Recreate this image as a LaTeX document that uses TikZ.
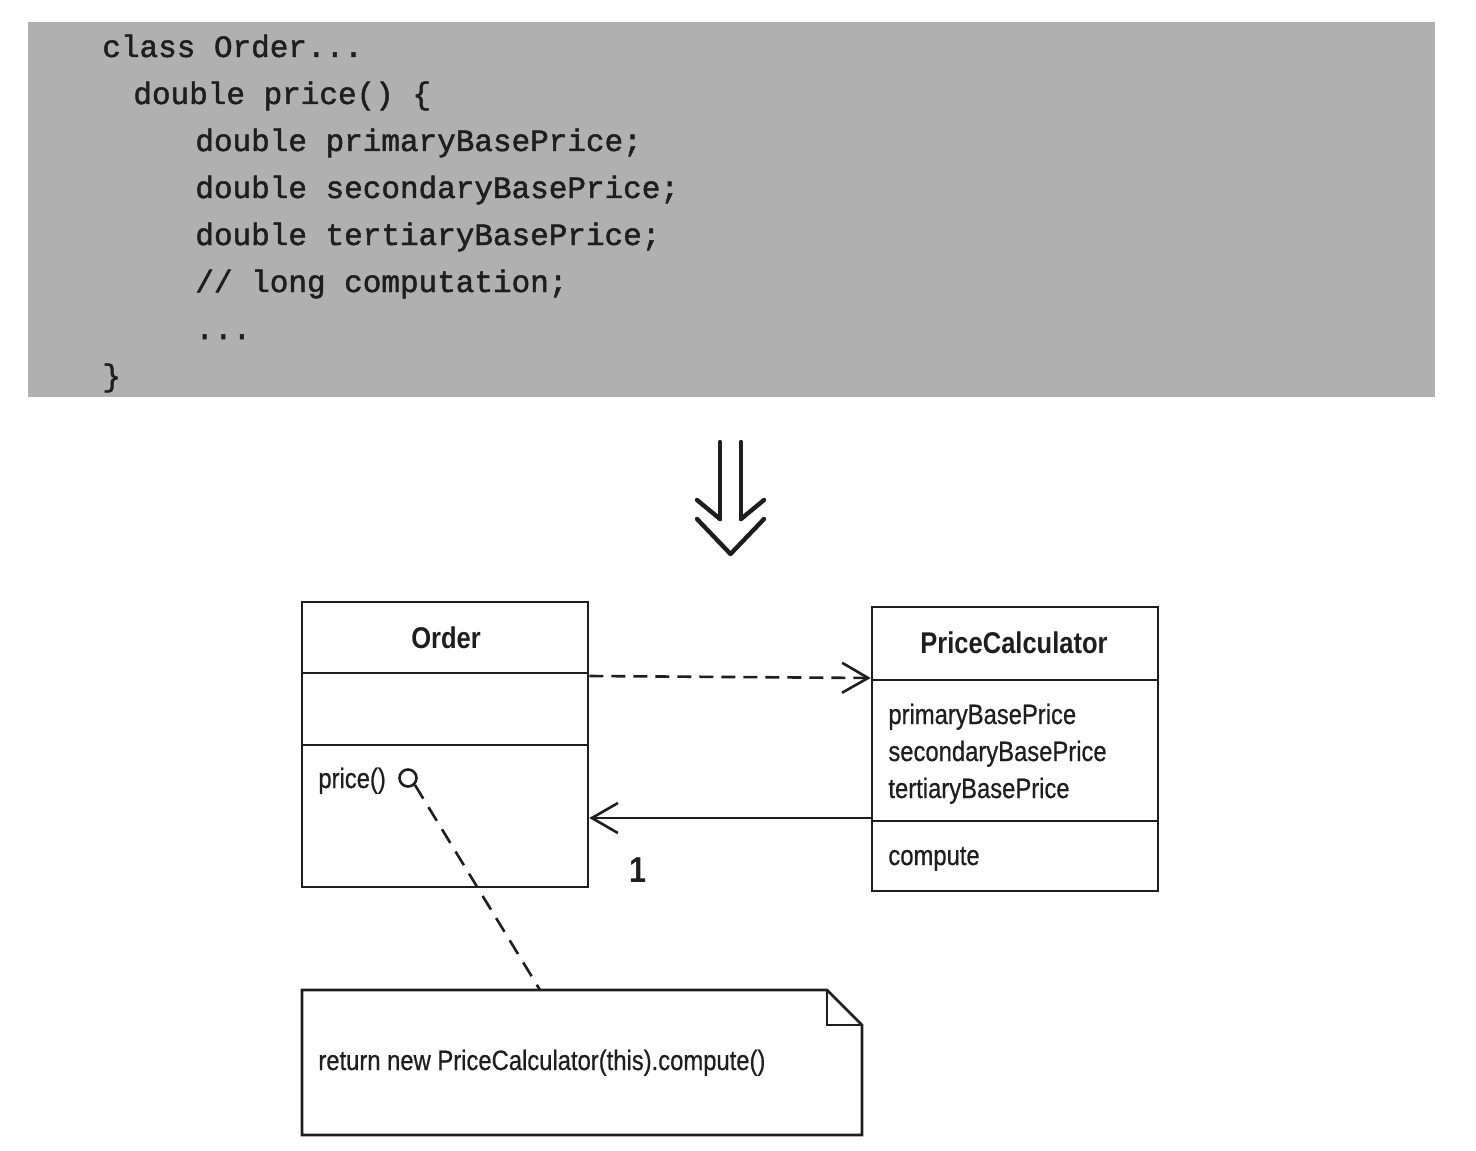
\documentclass[tikz,border=0pt]{standalone}
\usepackage{fontspec}
\setmainfont{Liberation Sans}
\newfontfamily\umlfont[FakeStretch=0.85,FakeBold=0.6]{Liberation Sans}
\newfontfamily\umlboldfont[FakeStretch=0.85]{Liberation Sans Bold}
\newfontfamily\codefont[FakeBold=1.6]{Liberation Mono}
\usetikzlibrary{arrows.meta,calc}
\definecolor{codebg}{RGB}{176,176,176}
\definecolor{ink}{RGB}{30,30,30}
\tikzset{
  codeline/.style={anchor=base west, inner sep=0pt, text=ink, font=\fontsize{15.5}{18}\selectfont\codefont},
  umlbox/.style={draw=ink, line width=1.3pt, minimum width=143pt, minimum height=142.5pt, inner sep=0pt},
  umltext/.style={anchor=base west, inner sep=0pt, text=ink, font=\fontsize{14}{16}\selectfont\umlfont},
  umltitle/.style={inner sep=0pt, text=ink, font=\fontsize{15}{17}\selectfont\umlboldfont},
  divider/.style={draw=ink, line width=1.3pt},
  opentip/.style={-{Straight Barb[length=13pt,width=15pt,line width=1.3pt]}},
  dep/.style={draw=ink, line width=1.3pt, dash pattern=on 7pt off 4pt, opentip},
  assoc/.style={draw=ink, line width=1.3pt, opentip},
  notelink/.style={draw=ink, line width=1.3pt, dash pattern=on 8pt off 5pt},
  bigarrow/.style={draw=ink, line width=2.2pt, line cap=round, line join=round}
}
\begin{document}
\begin{tikzpicture}[x=0.5pt,y=-0.5pt]
\useasboundingbox (0,0) rectangle (1476,1150);
% code panel
\node[fill=codebg, minimum width=703.5pt, minimum height=187.5pt, inner sep=0pt] (panel) at (731.5,209.5) {};
\node[codeline] (l1) at (102,57) {class Order...};
\node[codeline] (l2) at (133,104) {double price() \{};
\node[codeline] (l3) at (195,151) {double primaryBasePrice;};
\node[codeline] (l4) at (195,198) {double secondaryBasePrice;};
\node[codeline] (l5) at (195,245) {double tertiaryBasePrice;};
\node[codeline] (l6) at (195,292) {// long computation;};
\node[codeline] (l7) at (195,339) {...};
\node[codeline] (l8) at (102,386) {\}};
% transformation arrow
\draw[bigarrow] (720,442) -- (720,519);
\draw[bigarrow] (741,442) -- (741,519);
\draw[bigarrow] (697,500) -- (720,519);
\draw[bigarrow] (764,500) -- (741,519);
\draw[bigarrow] (697,519) -- (730.5,554) -- (764,519);
% Order class
\node[umlbox] (order) at (445,744.5) {};
\node[umltitle] (ordertitle) at (446,638) {Order};
\draw[divider] (order.west |- 0,673) -- (order.east |- 0,673);
\draw[divider] (order.west |- 0,745) -- (order.east |- 0,745);
\node[umltext] (price) at (318,788) {price()};
\node[draw=ink, line width=1.3pt, circle, minimum size=8.5pt, inner sep=0pt] (pcirc) at (408,778) {};
% PriceCalculator class
\node[umlbox, minimum height=142pt] (calc) at (1015,749) {};
\node[umltitle] (calctitle) at (1014,643) {PriceCalculator};
\draw[divider] (calc.west |- 0,680) -- (calc.east |- 0,680);
\draw[divider] (calc.west |- 0,821) -- (calc.east |- 0,821);
\node[umltext] (a1) at (888,724) {primaryBasePrice};
\node[umltext] (a2) at (888,761) {secondaryBasePrice};
\node[umltext] (a3) at (888,798) {tertiaryBasePrice};
\node[umltext] (m1) at (888,865) {compute};
% connectors
\draw[dep] (order.east |- 0,676) -- (calc.west |- 0,678);
\draw[assoc] (calc.west |- 0,818) -- (order.east |- 0,818);
\node[inner sep=0pt, text=ink, font=\fontsize{18}{20}\selectfont\umlboldfont] (mult) at (638,870) {1};
% note
\coordinate (nNW) at (302,990);
\coordinate (nfold) at (827,990);
\coordinate (nfoldb) at (862,1025);
\coordinate (nSE) at (862,1135);
\coordinate (nSW) at (302,1135);
\draw[ink, line width=1.3pt, line join=miter] (nNW) -- (nfold) -- (nfoldb) -- (nSE) -- (nSW) -- cycle;
\draw[ink, line width=1.3pt] (nfold) -- (nfold |- nfoldb) -- (nfoldb);
\coordinate (notetop) at (540,990);
\node[umltext] (notetext) at (318,1070) {return new PriceCalculator(this).compute()};
\draw[notelink] (pcirc.south east) -- (notetop);
\end{tikzpicture}
\end{document}
